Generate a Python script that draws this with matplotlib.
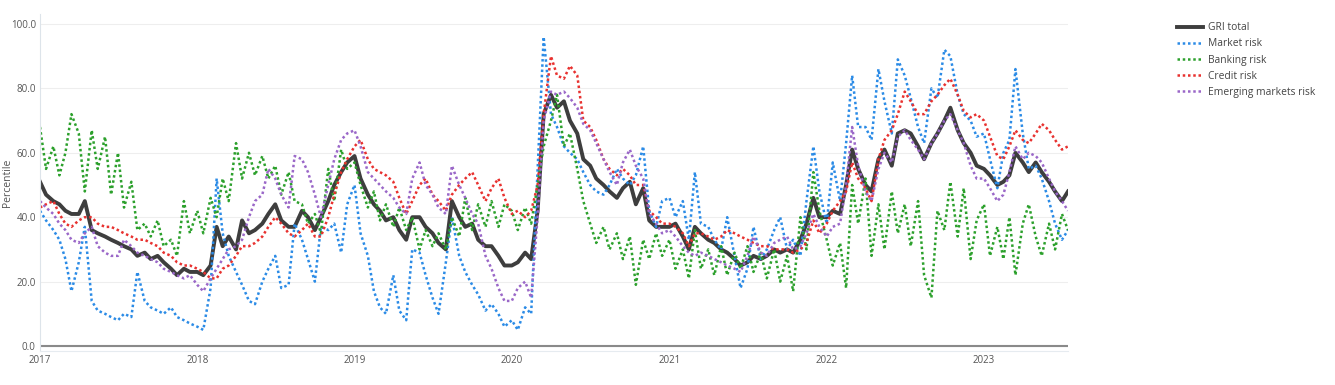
import matplotlib
matplotlib.use("Agg")
import matplotlib.pyplot as plt
import matplotlib.dates as mdates
import pandas as pd

plt.rcParams['font.family'] = ['Open Sans', 'DejaVu Sans']

# semi-monthly readings, Jan 2017 - Jul 2023
dates = pd.date_range('2017-01-01', periods=158, freq='SMS')

gri_total = [
    51, 47, 45, 44, 42, 41, 41, 45, 36, 35, 34, 33, 32, 31, 30, 28, 29, 27, 28, 26, 24, 22, 24, 23,
    23, 22, 25, 37, 31, 34, 30, 39, 35, 36, 38, 41, 44, 39, 37, 37, 42, 40, 36, 40, 45, 50, 54, 57,
    59, 52, 47, 44, 42, 39, 40, 36, 33, 40, 40, 37, 35, 32, 30, 45, 40, 37, 38, 33, 31, 31, 28, 25,
    25, 26, 29, 27, 42, 72, 78, 74, 76, 70, 66, 58, 56, 52, 50, 48, 46, 49, 51, 44, 49, 39, 37, 37,
    37, 38, 34, 30, 37, 35, 33, 32, 30, 29, 27, 25, 26, 28, 27, 28, 30, 29, 30, 29, 33, 38, 46, 40,
    40, 42, 41, 50, 61, 55, 50, 48, 58, 61, 56, 66, 67, 66, 62, 58, 63, 66, 70, 74, 67, 63, 60, 56,
    55, 53, 50, 51, 53, 60, 57, 54, 57, 54, 51, 48, 45, 48,
]
market_risk = [
    42, 39, 36, 33, 27, 17, 26, 37, 14, 11, 10, 9, 8, 10, 9, 23, 14, 12, 11, 10, 12, 9, 8, 7,
    6, 5, 18, 52, 35, 28, 23, 19, 14, 13, 20, 24, 28, 18, 19, 38, 33, 27, 20, 37, 36, 38, 29, 44,
    50, 35, 28, 17, 12, 10, 22, 11, 8, 30, 29, 22, 15, 10, 26, 40, 28, 23, 19, 16, 11, 13, 10, 6,
    8, 5, 12, 10, 55, 96, 72, 68, 62, 60, 58, 54, 50, 48, 47, 50, 55, 52, 50, 53, 62, 42, 37, 45,
    46, 40, 45, 33, 54, 38, 37, 33, 30, 40, 28, 18, 24, 37, 27, 30, 36, 40, 30, 33, 28, 45, 62, 48,
    38, 57, 45, 63, 84, 68, 68, 64, 86, 76, 66, 89, 84, 77, 68, 63, 80, 77, 92, 90, 78, 72, 70, 65,
    66, 58, 49, 60, 64, 86, 66, 55, 56, 52, 45, 38, 33, 36,
]
banking_risk = [
    68, 55, 62, 53, 60, 72, 66, 48, 67, 55, 65, 47, 60, 43, 51, 36, 38, 34, 39, 31, 33, 28, 45, 35,
    42, 35, 46, 40, 52, 45, 63, 52, 60, 53, 59, 52, 56, 47, 54, 45, 44, 38, 41, 35, 55, 45, 61, 55,
    57, 50, 43, 48, 39, 44, 37, 43, 36, 40, 30, 36, 31, 35, 30, 40, 34, 46, 36, 44, 37, 45, 37, 44,
    42, 36, 43, 38, 50, 62, 70, 78, 62, 66, 55, 45, 38, 32, 37, 30, 35, 27, 34, 19, 33, 27, 35, 28,
    33, 24, 30, 21, 36, 24, 30, 22, 31, 22, 29, 24, 31, 23, 29, 21, 30, 20, 28, 17, 40, 30, 54, 42,
    33, 25, 32, 18, 50, 38, 52, 28, 44, 30, 48, 35, 44, 31, 45, 22, 15, 42, 36, 51, 34, 49, 27, 39,
    44, 28, 37, 27, 40, 22, 38, 44, 34, 28, 38, 30, 41, 36,
]
credit_risk = [
    43, 44, 45, 41, 38, 37, 39, 40, 40, 38, 37, 37, 36, 35, 34, 33, 33, 32, 31, 29, 28, 26, 25, 25,
    24, 23, 21, 21, 24, 25, 28, 31, 31, 32, 34, 37, 40, 38, 35, 34, 36, 38, 34, 34, 40, 47, 54, 58,
    62, 64, 58, 55, 54, 53, 51, 46, 41, 45, 50, 52, 47, 45, 42, 47, 50, 52, 54, 50, 45, 49, 52, 46,
    41, 42, 40, 42, 50, 72, 90, 84, 83, 87, 84, 70, 68, 64, 58, 55, 53, 55, 53, 50, 50, 42, 40, 38,
    38, 37, 35, 31, 35, 35, 34, 33, 34, 36, 35, 34, 33, 32, 31, 31, 30, 30, 30, 29, 30, 32, 39, 35,
    38, 42, 45, 48, 57, 52, 49, 45, 58, 64, 67, 72, 79, 76, 72, 72, 76, 78, 81, 83, 78, 73, 71, 72,
    70, 65, 59, 58, 62, 67, 64, 63, 66, 69, 67, 64, 61, 62,
]
emerging_risk = [
    45, 43, 41, 38, 36, 33, 32, 35, 37, 31, 29, 28, 28, 33, 31, 29, 28, 27, 26, 24, 23, 22, 21, 22,
    19, 17, 21, 24, 27, 30, 31, 33, 40, 45, 47, 55, 52, 47, 43, 59, 58, 54, 47, 40, 50, 58, 64, 66,
    67, 62, 54, 52, 50, 48, 46, 43, 41, 52, 57, 50, 47, 43, 41, 56, 50, 46, 41, 38, 28, 24, 18, 14,
    14, 18, 20, 15, 40, 70, 79, 78, 79, 77, 74, 69, 67, 63, 58, 54, 50, 57, 61, 56, 52, 41, 38, 35,
    36, 34, 31, 29, 28, 29, 28, 27, 26, 25, 24, 23, 28, 34, 29, 28, 32, 33, 34, 30, 31, 35, 41, 37,
    34, 37, 38, 50, 68, 56, 48, 45, 55, 60, 57, 65, 67, 64, 61, 58, 63, 66, 70, 72, 67, 63, 56, 52,
    52, 49, 45, 47, 54, 62, 58, 60, 59, 57, 52, 48, 45, 42,
]

series = [
    ("GRI total", gri_total, "#333333"),
    ("Market risk", market_risk, "#2b8be6"),
    ("Banking risk", banking_risk, "#2ca02c"),
    ("Credit risk", credit_risk, "#e8312f"),
    ("Emerging markets risk", emerging_risk, "#9a67c8"),
]

fig = plt.figure(figsize=(13.35, 3.85), dpi=100)
ax = fig.add_axes([40 / 1335, 34 / 385, 1028 / 1335, 337 / 385])

for name, vals, col in series:
    if name == "GRI total":
        ax.plot(dates, vals, color=col, lw=2.8, alpha=0.95, label=name)
    else:
        ax.plot(dates, vals, color=col, lw=1.8, linestyle=(0, (1, 1.1)), label=name)

ax.set_xlim(pd.Timestamp('2017-01-01'), pd.Timestamp('2023-07-15'))
ax.set_ylim(-1.55, 103.1)
ax.set_yticks([0, 20, 40, 60, 80, 100])
ax.yaxis.set_major_formatter(plt.FormatStrFormatter('%.1f'))
ax.xaxis.set_major_locator(mdates.YearLocator())
ax.xaxis.set_major_formatter(mdates.DateFormatter('%Y'))
ax.tick_params(axis='both', length=0, labelsize=7, colors='#555555')
ax.tick_params(axis='x', pad=3)
ax.tick_params(axis='y', pad=3)
ax.grid(axis='y', color='#eeeeee', lw=0.8)
ax.set_axisbelow(True)
ax.axhline(0, color='#8a8a8a', lw=1.5, zorder=1)
for s in ['top', 'right']:
    ax.spines[s].set_visible(False)
ax.spines['left'].set_color('#dde4ea')
ax.spines['bottom'].set_color('#e6ebf0')
fig.text(8 / 1335, 1 - 183 / 385, 'Percentile', rotation=90, fontsize=7.5,
         color='#555555', ha='center', va='center')

fig.legend(loc='upper left', bbox_to_anchor=(1168 / 1335, 1 - 13 / 385), frameon=False,
           fontsize=7.4, handlelength=2.5, labelspacing=0.5, handletextpad=0.5,
           labelcolor='#444444')

plt.savefig('out.png', dpi=100)
